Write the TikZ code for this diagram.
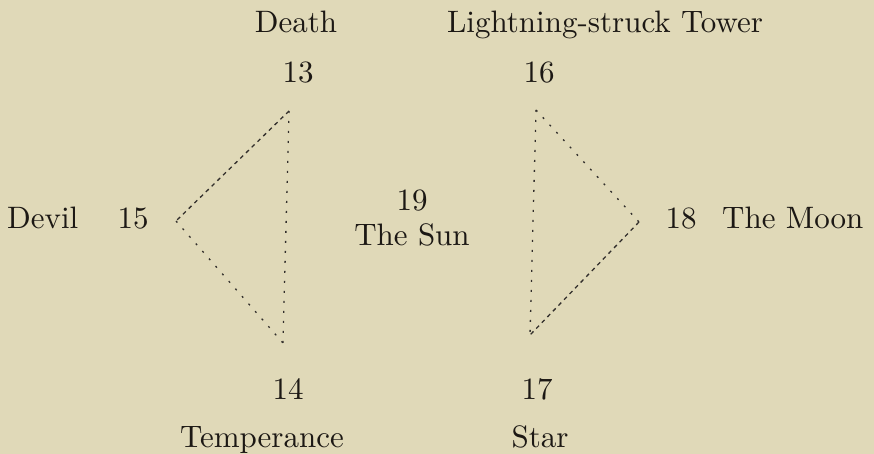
\documentclass[tikz,border=0pt]{standalone}
\usepackage{fontspec}
\setmainfont{lmroman10-regular}[Extension=.otf]
\definecolor{paper}{RGB}{224,217,184}
\definecolor{ink}{RGB}{28,24,20}
\begin{document}
\begin{tikzpicture}[x=1pt,y=-1pt,
  lbl/.style={anchor=base,inner sep=0pt,text=ink,font=\fontsize{31}{37}\selectfont},
  dashedge/.style={draw=ink!90,line width=1.3pt,dash pattern=on 4pt off 4pt},
  dotedge/.style={draw=ink!90,line width=1.3pt,dash pattern=on 2pt off 8pt}]
\fill[paper] (0,0) rectangle (874,454);
\useasboundingbox (0,0) rectangle (874,454);
% labels
\node[lbl] (death) at (296,33) {Death};
\node[lbl] (n13) at (298,83) {13};
\node[lbl] (tower) at (605,33) {Lightning-struck Tower};
\node[lbl] (n16) at (539,83) {16};
\node[lbl,anchor=base west] (devil) at (7,228) {Devil};
\node[lbl] (n15) at (133,228) {15};
\node[lbl] (n19) at (412,211) {19};
\node[lbl] (sun) at (412,245) {The Sun};
\node[lbl] (n18) at (681,228) {18};
\node[lbl,anchor=base west] (moon) at (722,228) {The Moon};
\node[lbl] (n14) at (288,399) {14};
\node[lbl,anchor=base west] (temp) at (180,447) {Temperance};
\node[lbl] (n17) at (537,399) {17};
\node[lbl] (star) at (540,447) {Star};
% triangle vertices
\coordinate (A) at (289,111);
\coordinate (B) at (176,221);
\coordinate (C) at (283,343);
\coordinate (D) at (536,110);
\coordinate (E) at (639,222);
\coordinate (F) at (530,335);
% left triangle
\draw[dashedge] (A) -- (B);
\draw[dotedge] (B) -- (C);
\draw[dotedge] (A) -- (C);
% right triangle
\draw[dotedge] (D) -- (E);
\draw[dashedge] (E) -- (F);
\draw[dotedge] (D) -- (F);
\end{tikzpicture}
\end{document}
